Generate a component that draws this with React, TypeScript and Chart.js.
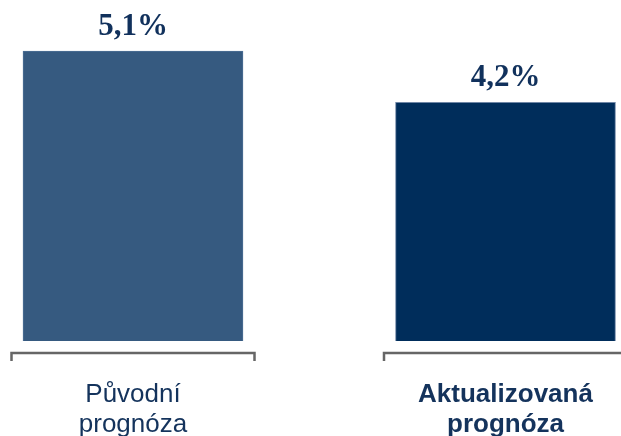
import React, { useEffect, useRef } from "react";
import { Chart, registerables } from "chart.js";

Chart.register(...registerables);

const categories: string[][] = [["Původní", "prognóza"], ["Aktualizovaná", "prognóza"]];
const values: number[] = [5.1, 4.2];
const valueLabels: string[] = ["5,1%", "4,2%"];
const barColors: string[] = ["#365A80", "#002D5B"];
const barBorders: string[] = ["#4E7196", "#6F86A6"];

const bracketPlugin = {
  id: "brackets",
  afterDraw(chart: any) {
    const { ctx, chartArea, scales } = chart;
    const xs = scales.x;
    const y = chartArea.bottom + 12;
    const half = 121.5;
    ctx.save();
    ctx.strokeStyle = "#666666";
    ctx.lineWidth = 2.5;
    ctx.lineCap = "butt";
    categories.forEach((_, i) => {
      const cx = xs.getPixelForValue(i);
      ctx.beginPath();
      ctx.moveTo(cx - half, y + 8);
      ctx.lineTo(cx - half, y);
      ctx.lineTo(cx + half, y);
      ctx.lineTo(cx + half, y + 8);
      ctx.stroke();
    });
    ctx.restore();
  },
};

const valueLabelPlugin = {
  id: "valueLabels",
  afterDatasetsDraw(chart: any) {
    const { ctx } = chart;
    const meta = chart.getDatasetMeta(0);
    ctx.save();
    ctx.font = "bold 31px 'Liberation Serif', 'Times New Roman', serif";
    ctx.fillStyle = "#11315C";
    ctx.textAlign = "center";
    ctx.textBaseline = "alphabetic";
    meta.data.forEach((bar: any, i: number) => {
      ctx.fillText(valueLabels[i], bar.x, bar.y - 16);
    });
    ctx.restore();
  },
};

export default function App() {
  const ref = useRef<HTMLCanvasElement | null>(null);
  useEffect(() => {
    if (!ref.current) return;
    const chart = new Chart(ref.current, {
      type: "bar",
      data: {
        labels: categories,
        datasets: [
          {
            data: values,
            backgroundColor: barColors,
            borderColor: barBorders,
            borderWidth: 1,
            barThickness: 220,
            clip: false,
          },
        ],
      },
      options: {
        animation: false,
        responsive: true,
        maintainAspectRatio: false,
        layout: { padding: { left: 133, right: 115.5, top: 0, bottom: 0 } },
        plugins: { legend: { display: false }, tooltip: { enabled: false } },
        scales: {
          x: {
            type: "category",
            offset: false,
            grid: { display: false, drawTicks: false, offset: false },
            border: { display: false },
            afterFit: (scale: any) => {
              scale.height = 95;
              scale.paddingLeft = 0;
              scale.paddingRight = 0;
            },
            ticks: {
              autoSkip: false,
              maxRotation: 0,
              minRotation: 0,
              padding: 39,
              color: "#14335C",
              font: (c: any) => ({
                family: "'Liberation Sans', Arial, sans-serif",
                size: 26,
                weight: c.index === 1 ? "bold" : "normal",
                lineHeight: 1.15,
              }),
            },
          },
          y: {
            display: false,
            min: 0,
            max: 6,
          },
        },
      },
      plugins: [bracketPlugin, valueLabelPlugin],
    });
    return () => chart.destroy();
  }, []);
  return (
    <div style={{ position: "absolute", left: 0, top: 0, width: 621, height: 436 }}>
      <canvas ref={ref} />
    </div>
  );
}
